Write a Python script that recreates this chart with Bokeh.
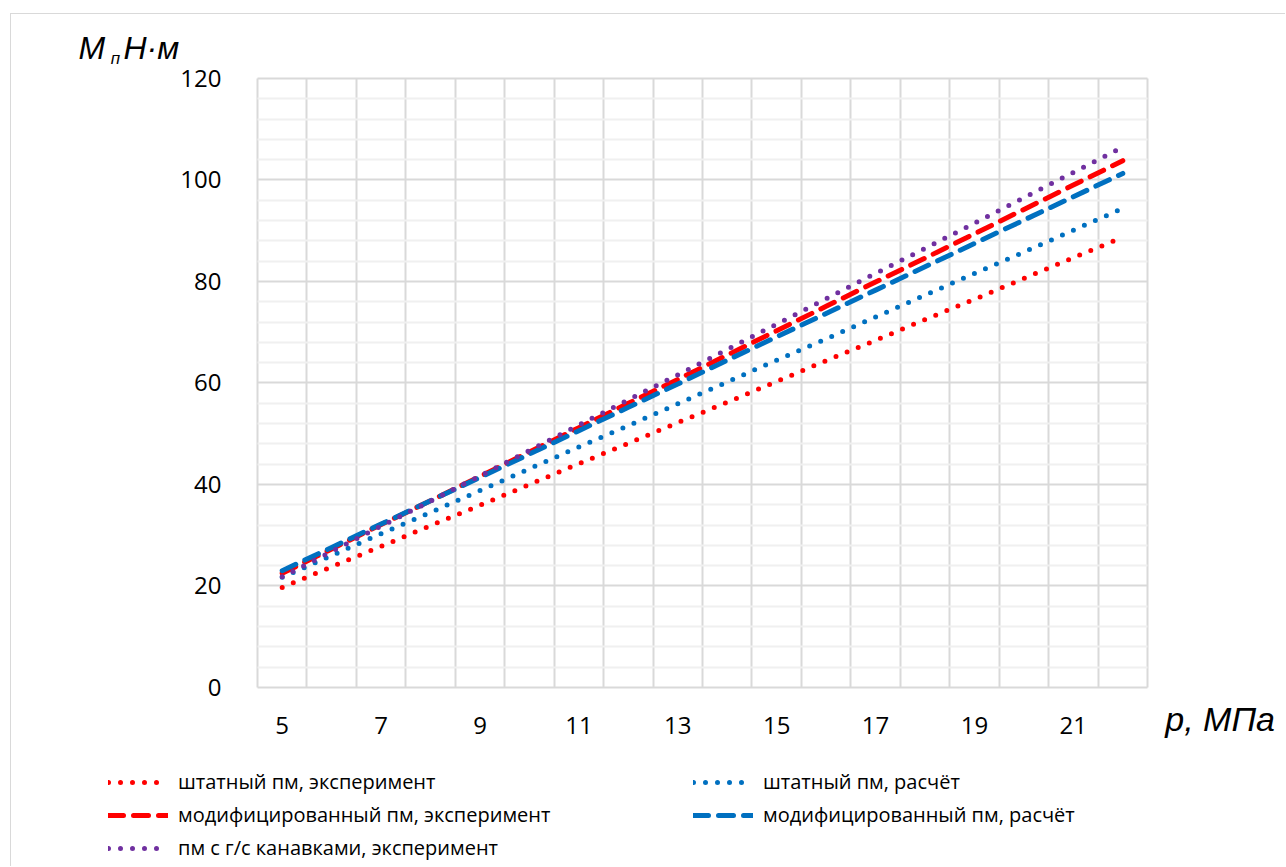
from bokeh.plotting import figure
from bokeh.models import Range1d, FixedTicker, Legend, LegendItem, Label
from bokeh.embed import file_html
from bokeh.resources import INLINE

# pressure, MPa
p_mpa = [5, 6, 7, 8, 9, 10, 11, 12, 13, 14, 15, 16, 17, 18, 19, 20, 21, 22]

# friction torque, N*m
std_exp = [19.7, 23.8, 27.8, 31.9, 35.9, 40.0, 44.1, 48.1, 52.2, 56.2, 60.3, 64.4,
           68.4, 72.5, 76.5, 80.6, 84.7, 88.7]
std_calc = [21.7, 26.0, 30.3, 34.5, 38.8, 43.1, 47.4, 51.6, 55.9, 60.2, 64.5, 68.7,
            73.0, 77.3, 81.6, 85.8, 90.1, 94.4]
mod_exp = [22.5, 27.3, 32.1, 36.8, 41.6, 46.4, 51.2, 56.0, 60.7, 65.5, 70.3, 75.1,
           79.9, 84.6, 89.4, 94.2, 99.0, 103.8]
mod_calc = [23.0, 27.6, 32.2, 36.8, 41.4, 46.0, 50.6, 55.2, 59.8, 64.5, 69.1, 73.7,
            78.3, 82.9, 87.5, 92.1, 96.7, 101.3]
groove_exp = [21.8, 26.8, 31.8, 36.7, 41.7, 46.7, 51.7, 56.7, 61.6, 66.6, 71.6, 76.6,
              81.6, 86.5, 91.5, 96.5, 101.5, 106.5]

x_labels = [5, 7, 9, 11, 13, 15, 17, 19, 21]
y_labels = [0, 20, 40, 60, 80, 100, 120]

series_names = [
    "штатный пм, эксперимент",
    "штатный пм, расчёт",
    "модифицированный пм, эксперимент",
    "модифицированный пм, расчёт",
    "пм с г/с канавками, эксперимент",
]

FONT = "Open Sans"
TITLE_FONT = "Liberation Sans"
RED = "#FF0000"
BLUE = "#0070C0"
PURPLE = "#7030A0"

# plot area spans x 4.5..22.5 and y 0..120; the canvas around it holds the
# axis titles and the legend, so the ranges reach beyond the plot area
X0, X1 = 4.5, 22.5
Y0, Y1 = 0, 120

p = figure(
    width=1275, height=853,
    x_range=Range1d(-0.475, 25.311), y_range=Range1d(-35.47, 132.61),
    output_backend="svg", toolbar_location=None,
    min_border_left=0, min_border_right=0, min_border_top=0, min_border_bottom=0,
)
p.styles = {
    "margin-left": "10px", "margin-top": "13px",
    "border-left": "1px solid #D9D9D9", "border-top": "1px solid #D9D9D9",
}
p.background_fill_color = "white"
p.border_fill_color = "white"
p.outline_line_color = None

# axes sit on the plot-area edges
p.xaxis.fixed_location = Y0
p.yaxis.fixed_location = X0
p.xaxis.bounds = (X0, X1)
p.yaxis.bounds = (Y0, Y1)
p.xaxis.ticker = FixedTicker(ticks=x_labels)
p.yaxis.ticker = FixedTicker(ticks=y_labels, minor_ticks=[v for v in range(4, 120, 4) if v % 20])
for ax in (p.xaxis, p.yaxis):
    ax.axis_line_color = None
    ax.major_tick_line_color = None
    ax.minor_tick_line_color = None
    ax.major_label_text_font = FONT
    ax.major_label_text_font_size = "24px"
    ax.major_label_text_color = "#000000"
p.xaxis.major_label_standoff = 24
p.yaxis.major_label_standoff = 30

# grid: vertical lines on category boundaries, horizontal major/minor,
# all kept inside the plot area
p.xgrid.ticker = FixedTicker(ticks=[X0 + i for i in range(19)])
p.xgrid.bounds = (X0, X1)
p.xgrid.cross_bounds = (Y0, Y1)
p.ygrid.bounds = (Y0, Y1)
p.ygrid.cross_bounds = (X0, X1)
p.xgrid.grid_line_color = "#D9D9D9"
p.xgrid.grid_line_width = 2
p.ygrid.grid_line_color = "#D9D9D9"
p.ygrid.grid_line_width = 2
p.ygrid.minor_grid_line_color = "#F0F0F0"
p.ygrid.minor_grid_line_width = 2

dot = dict(line_width=5, line_dash="0 12", line_cap="round")
dash = dict(line_width=5, line_dash="15 10", line_cap="round")

r_std_exp = p.line(p_mpa, std_exp, color=RED, **dot)
r_std_calc = p.line(p_mpa, std_calc, color=BLUE, **dot)
r_mod_exp = p.line(p_mpa, mod_exp, color=RED, **dash)
r_mod_calc = p.line(p_mpa, mod_calc, color=BLUE, **dash)
r_groove = p.line(p_mpa, groove_exp, color=PURPLE, **dot)

leg_style = dict(
    orientation="vertical", glyph_width=60, glyph_height=20, label_height=20,
    spacing=6, padding=0, margin=0, border_line_color=None,
    background_fill_alpha=0, label_text_font=FONT, label_text_font_size="20px",
    label_text_color="#000000", label_standoff=10,
)
leg_left = Legend(items=[
    LegendItem(label=series_names[0], renderers=[r_std_exp]),
    LegendItem(label=series_names[2], renderers=[r_mod_exp]),
    LegendItem(label=series_names[4], renderers=[r_groove]),
], location=(97, 6), **leg_style)
leg_right = Legend(items=[
    LegendItem(label=series_names[1], renderers=[r_std_calc]),
    LegendItem(label=series_names[3], renderers=[r_mod_calc]),
], location=(682, 39), **leg_style)
p.add_layout(leg_left)
p.add_layout(leg_right)

# axis titles
title_style = dict(text_font=TITLE_FONT, text_font_style="italic",
                   text_color="#000000", text_baseline="alphabetic")
p.add_layout(Label(x=0.88, y=126.1, text="M", text_font_size="32px", **title_style))
p.add_layout(Label(x=1.53, y=123.9, text="п", text_font_size="17px", **title_style))
p.add_layout(Label(x=1.79, y=126.1, text="Н·м", text_font_size="32px", **title_style))
p.add_layout(Label(x=22.86, y=-6.3, text="p, МПа", text_font_size="34px", **title_style))

open("out.html", "w").write(file_html(p, INLINE))
